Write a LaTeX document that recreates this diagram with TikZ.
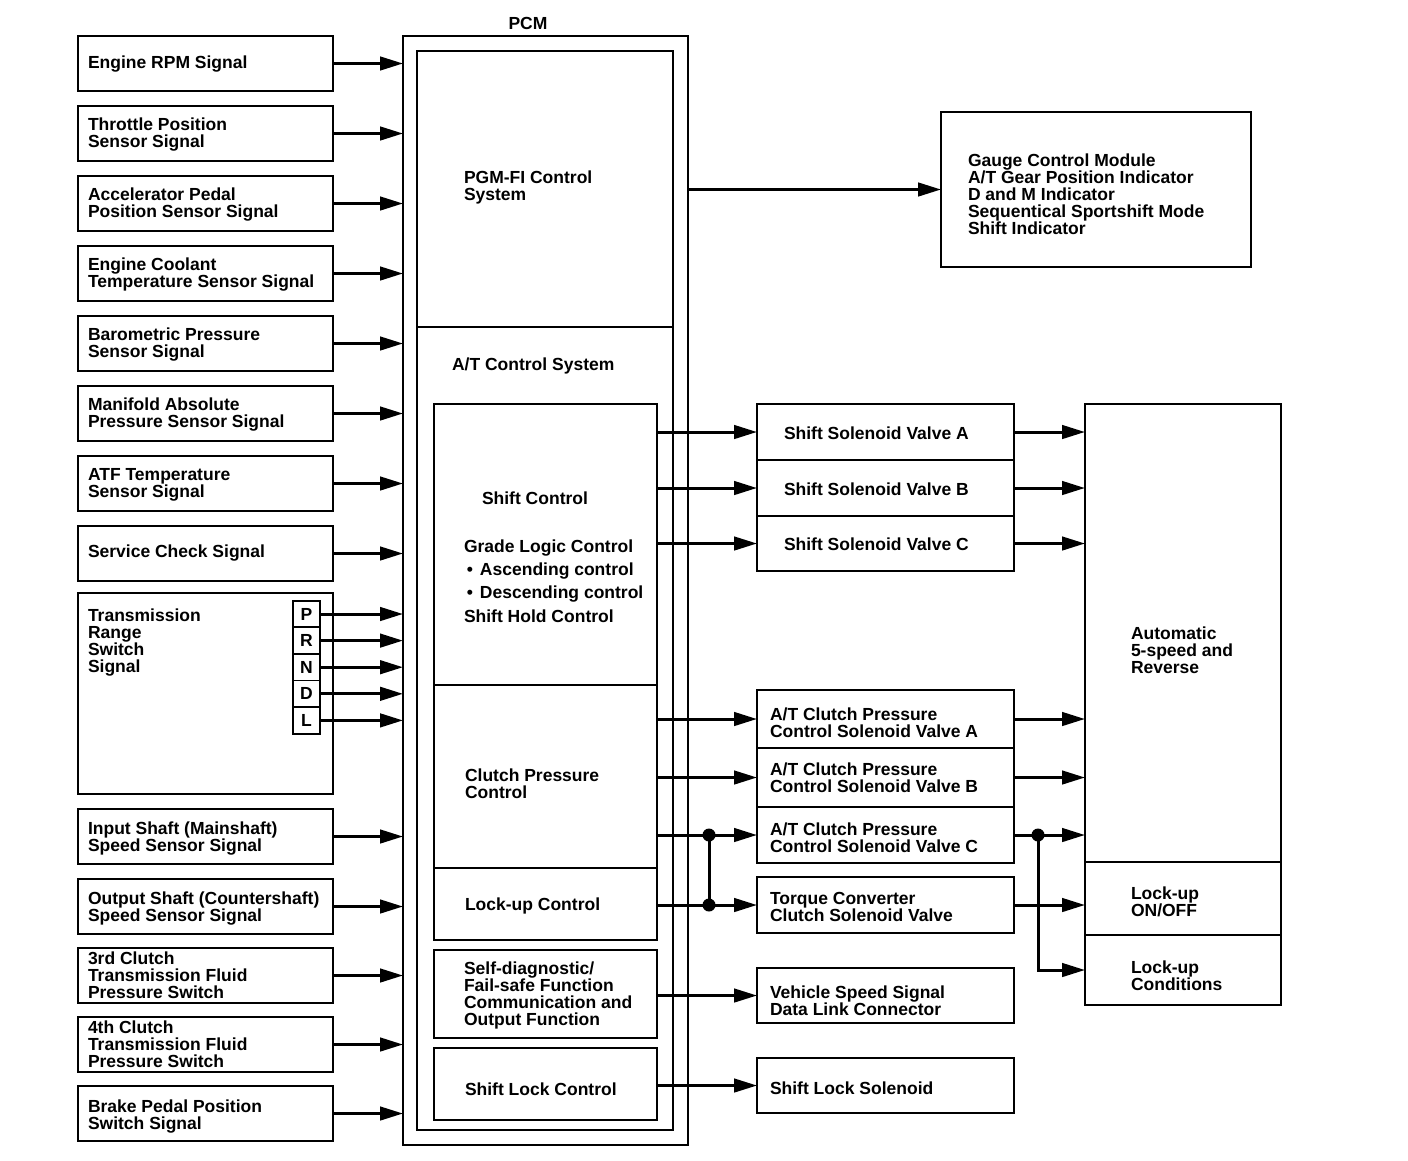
\documentclass[tikz,border=0pt]{standalone}
\usepackage{fontspec}
\setmainfont{Liberation Sans}
\usetikzlibrary{arrows.meta}
\newcommand\mkbox[5]{\node[box,anchor=north west,minimum width={(#4-#2)*1pt},minimum height={(#5-#3)*1pt}] (#1) at (#2,#3) {};}
\begin{document}
\begin{tikzpicture}[x=1pt,y=-1pt,
  box/.style={draw,line width=1.8pt,inner sep=0pt,outer sep=0pt},
  txt/.style={inner sep=0pt,outer sep=0pt,align=left,anchor=west,yshift=-2pt,font=\fontsize{17.5}{17}\selectfont\bfseries},
  arr/.style={line width=3pt,-{Triangle[length=23pt,width=13.5pt]}},
  ln/.style={line width=3pt},
  dot/.style={circle,fill,inner sep=0pt,minimum size=13pt},
  letter/.style={draw,line width=1.8pt,inner sep=0pt,minimum width=27pt,minimum height=26.6pt,font=\fontsize{17.5}{17}\selectfont\bfseries}]
\useasboundingbox (0,0) rectangle (1408,1160);
% ---------- left input boxes ----------
\mkbox{l1}{78}{36}{333}{91}
\mkbox{l2}{78}{106}{333}{161}
\mkbox{l3}{78}{176}{333}{231}
\mkbox{l4}{78}{246}{333}{301}
\mkbox{l5}{78}{316}{333}{371}
\mkbox{l6}{78}{386}{333}{441}
\mkbox{l7}{78}{456}{333}{511}
\mkbox{l8}{78}{526}{333}{581}
\mkbox{l9}{78}{593}{333}{794}
\mkbox{l10}{78}{809}{333}{864}
\mkbox{l11}{78}{879}{333}{934}
\mkbox{l12}{78}{948}{333}{1003}
\mkbox{l13}{78}{1017}{333}{1072}
\mkbox{l14}{78}{1086}{333}{1141}
\node[txt] (t1) at (88,62) {Engine RPM Signal};
\node[txt] (t2) at (88,133) {Throttle Position\\Sensor Signal};
\node[txt] (t3) at (88,203) {Accelerator Pedal\\Position Sensor Signal};
\node[txt] (t4) at (88,273) {Engine Coolant\\Temperature Sensor Signal};
\node[txt] (t5) at (88,343) {Barometric Pressure\\Sensor Signal};
\node[txt] (t6) at (88,413) {Manifold Absolute\\Pressure Sensor Signal};
\node[txt] (t7) at (88,483) {ATF Temperature\\Sensor Signal};
\node[txt] (t8) at (88,551) {Service Check Signal};
\node[txt] (t9) at (88,641) {Transmission\\Range\\Switch\\Signal};
\node[txt] (t10) at (88,836) {Input Shaft (Mainshaft)\\Speed Sensor Signal};
\node[txt] (t11) at (88,906) {Output Shaft (Countershaft)\\Speed Sensor Signal};
\node[txt] (t12) at (88,973) {3rd Clutch\\Transmission Fluid\\Pressure Switch};
\node[txt] (t13) at (88,1042) {4th Clutch\\Transmission Fluid\\Pressure Switch};
\node[txt] (t14) at (88,1114) {Brake Pedal Position\\Switch Signal};
% PRNDL
\node[letter] (rP) at (306.5,614) {P};
\node[letter] (rR) at (306.5,640.6) {R};
\node[letter] (rN) at (306.5,667.2) {N};
\node[letter] (rD) at (306.5,693.8) {D};
\node[letter] (rL) at (306.5,720.4) {L};
% ---------- PCM ----------
\mkbox{pcm}{403}{36}{688}{1145}
\mkbox{pcmin}{417}{51}{673}{1130}
\node[txt,anchor=center] (pcmlbl) at (528,21) {PCM};
\coordinate (div) at (0,327);
\draw[line width=1.8pt] (div -| pcmin.west) -- (div -| pcmin.east);
\node[txt] (pgm) at (464,185) {PGM-FI Control\\System};
\node[txt] (atc) at (452,364) {A/T Control System};
\mkbox{shiftc}{434}{404}{657}{685}
\mkbox{clutchc}{434}{685}{657}{868}
\mkbox{lockc}{434}{868}{657}{940}
\mkbox{diagc}{434}{950}{657}{1038}
\mkbox{slockc}{434}{1048}{657}{1120}
\node[txt] (tsc) at (482,496) {Shift Control};
\node[txt,font=\fontsize{17.5}{23.4}\selectfont\bfseries] (tgl) at (464,579) {Grade Logic Control\\\makebox[16pt][l]{\,•}Ascending control\\\makebox[16pt][l]{\,•}Descending control\\Shift Hold Control};
\node[txt] (tcp) at (465,782) {Clutch Pressure\\Control};
\node[txt] (tlc) at (465,904) {Lock-up Control};
\node[txt] (tsd) at (464,993) {Self-diagnostic/\\Fail-safe Function\\Communication and\\Output Function};
\node[txt] (tsl) at (465,1087) {Shift Lock Control};
% ---------- middle outputs ----------
\mkbox{ssa}{757}{404}{1014}{460}
\mkbox{ssb}{757}{460}{1014}{516}
\mkbox{ssc}{757}{516}{1014}{571}
\mkbox{cpa}{757}{690}{1014}{748}
\mkbox{cpb}{757}{748}{1014}{807}
\mkbox{cpc}{757}{807}{1014}{863}
\mkbox{tcc}{757}{877}{1014}{933}
\mkbox{vss}{757}{968}{1014}{1023}
\mkbox{sls}{757}{1058}{1014}{1113}
\node[txt] (tssa) at (784,431) {Shift Solenoid Valve A};
\node[txt] (tssb) at (784,487) {Shift Solenoid Valve B};
\node[txt] (tssc) at (784,542) {Shift Solenoid Valve C};
\node[txt] (tcpa) at (770,721) {A/T Clutch Pressure\\Control Solenoid Valve A};
\node[txt] (tcpb) at (770,776) {A/T Clutch Pressure\\Control Solenoid Valve B};
\node[txt] (tcpc) at (770,836) {A/T Clutch Pressure\\Control Solenoid Valve C};
\node[txt] (ttcc) at (770,905) {Torque Converter\\Clutch Solenoid Valve};
\node[txt] (tvss) at (770,999) {Vehicle Speed Signal\\Data Link Connector};
\node[txt] (tsls) at (770,1086) {Shift Lock Solenoid};
% ---------- right side ----------
\mkbox{gauge}{941}{112}{1251}{267}
\node[txt] (tg) at (968,192) {Gauge Control Module\\A/T Gear Position Indicator\\D and M Indicator\\Sequentical Sportshift Mode\\Shift Indicator};
\mkbox{trans}{1085}{404}{1281}{862}
\mkbox{lockon}{1085}{862}{1281}{935}
\mkbox{lockcond}{1085}{935}{1281}{1005}
\node[txt] (ttr) at (1131,648) {Automatic\\5-speed and\\Reverse};
\node[txt] (tlo) at (1131,900) {Lock-up\\ON/OFF};
\node[txt] (tlcd) at (1131,974) {Lock-up\\Conditions};
% ---------- connectors: inputs ----------
\foreach \n in {l1,l2,l3,l4,l5,l6,l7,l8,l10,l11,l12,l13,l14}
  \draw[arr] (\n.east) -- (\n.east -| pcm.west);
\foreach \n in {rP,rR,rN,rD,rL}
  \draw[arr] (\n.east) -- (\n.east -| pcm.west);
% ---------- connectors: outputs ----------
\draw[arr] (gauge.west -| pcm.east) -- (gauge.west);
\draw[arr] (ssa.west -| shiftc.east) -- (ssa.west);
\draw[arr] (ssb.west -| shiftc.east) -- (ssb.west);
\draw[arr] (ssc.west -| shiftc.east) -- (ssc.west);
\draw[arr] (cpa.west -| clutchc.east) -- (cpa.west);
\draw[arr] (cpb.west -| clutchc.east) -- (cpb.west);
\draw[arr] (cpc.west -| clutchc.east) -- (cpc.west);
\draw[arr] (tcc.west -| lockc.east) -- (tcc.west);
\draw[arr] (vss.west -| diagc.east) -- (vss.west);
\draw[arr] (sls.west -| slockc.east) -- (sls.west);
\coordinate (jx) at (709,0);
\node[dot] (j1) at (cpc.west -| jx) {};
\node[dot] (j2) at (tcc.west -| jx) {};
\draw[ln] (j1.center) -- (j2.center);
% ---------- connectors: to transmission ----------
\foreach \n in {ssa,ssb,ssc,cpa,cpb,cpc}
  \draw[arr] (\n.east) -- (\n.east -| trans.west);
\draw[arr] (tcc.east) -- (tcc.east -| lockon.west);
\coordinate (kx) at (1038,0);
\node[dot] (j3) at (cpc.east -| kx) {};
\draw[arr] (j3.center) |- (lockcond.west);
\end{tikzpicture}
\end{document}
